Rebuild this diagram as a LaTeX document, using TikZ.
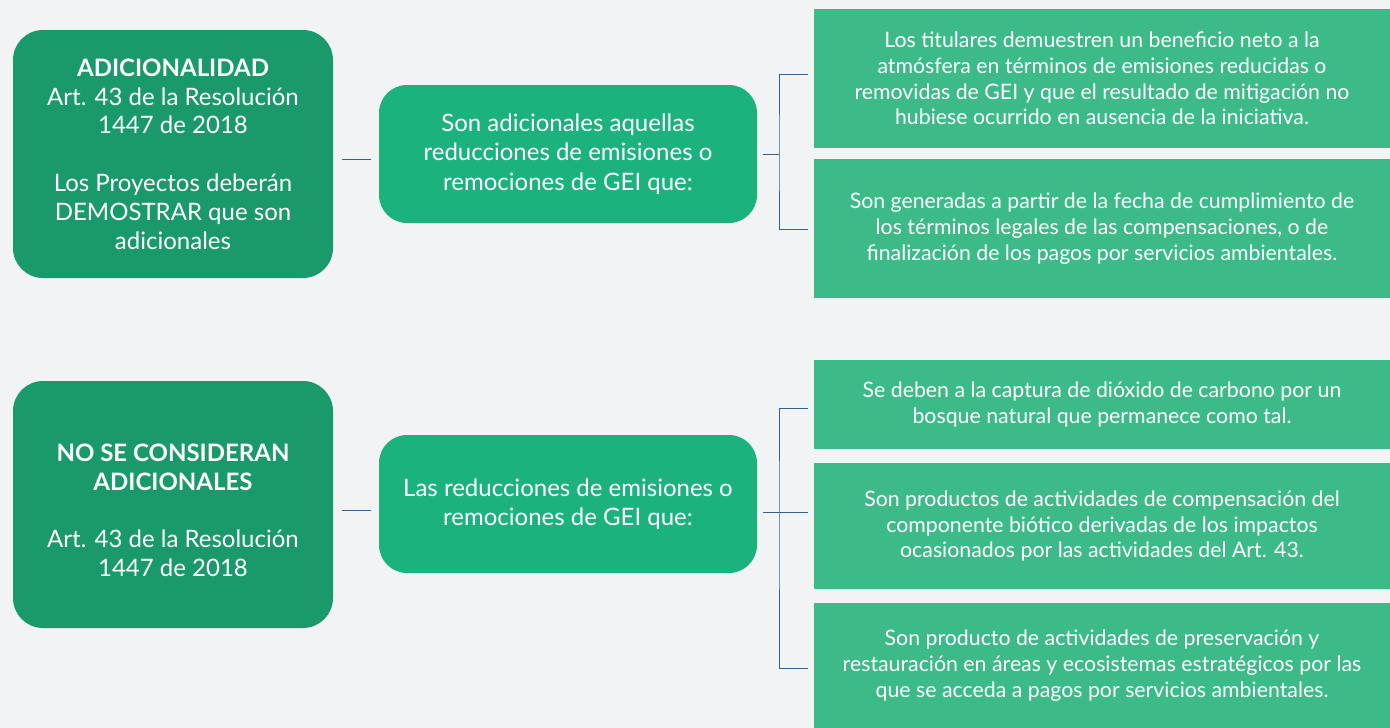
\documentclass[tikz,border=0pt]{standalone}
\usepackage{fontspec}
\setmainfont{Lato}
\definecolor{bg}{RGB}{242,243,245}
\definecolor{gdark}{RGB}{26,154,107}
\definecolor{gmid}{RGB}{27,178,126}
\definecolor{glight}{RGB}{60,187,137}
\definecolor{conncol}{RGB}{52,96,140}
\begin{document}
\begin{tikzpicture}[x=1pt,y=-1pt,
  lefttext/.style={inner sep=0pt,text=white,align=center,font=\fontsize{24}{28.8}\selectfont},
  leftbox/.style={lefttext,fill=gdark,rounded corners=30pt,minimum width=320pt,minimum height=248pt},
  midbox/.style={fill=gmid,rounded corners=28pt,minimum width=378pt,minimum height=138pt,inner sep=0pt,text=white,align=center,font=\fontsize{24}{29.5}\selectfont},
  rightbox/.style={fill=glight,minimum width=576pt,inner sep=0pt,text=white,align=center,font=\fontsize{21.3}{25.6}\selectfont},
  conn/.style={draw=conncol,line width=1pt}]
\useasboundingbox (0,0) rectangle (1390,728);
\fill[bg] (0,0) rectangle (1390,728);
% left boxes
\node[leftbox] (L1) at (173,154) {\textbf{ADICIONALIDAD}\\Art. 43 de la Resolución\\1447 de 2018\\[28.8pt]Los Proyectos deberán\\DEMOSTRAR que son\\adicionales};
\node[leftbox,minimum height=247pt] (L2) at (173,504.5) {};
\node[lefttext] (L2t) at ([yshift=-6pt]L2.center) {\textbf{NO SE CONSIDERAN}\\\textbf{ADICIONALES}\\[28.8pt]Art. 43 de la Resolución\\1447 de 2018};
% middle boxes
\node[midbox] (M1) at (568,154) {Son adicionales aquellas\\reducciones de emisiones o\\remociones de GEI que:};
\node[midbox] (M2) at (568,504) {Las reducciones de emisiones o\\remociones de GEI que:};
% right boxes
\node[rightbox,minimum height=139pt] (R1) at (1102,78.5) {Los titulares demuestren un beneficio neto a la\\atmósfera en términos de emisiones reducidas o\\removidas de GEI y que el resultado de mitigación no\\hubiese ocurrido en ausencia de la iniciativa.};
\node[rightbox,minimum height=139pt] (R2) at (1102,228.5) {Son generadas a partir de la fecha de cumplimiento de\\los términos legales de las compensaciones, o de\\finalización de los pagos por servicios ambientales.};
\node[rightbox,minimum height=89pt] (R3) at (1102,404.5) {Se deben a la captura de dióxido de carbono por un\\bosque natural que permanece como tal.};
\node[rightbox,minimum height=126pt] (R4) at (1102,526) {Son productos de actividades de compensación del\\componente biótico derivadas de los impactos\\ocasionados por las actividades del Art. 43.};
\node[rightbox,minimum height=125pt] (R5) at (1102,665.5) {Son producto de actividades de preservación y\\restauración en áreas y ecosistemas estratégicos por las\\que se acceda a pagos por servicios ambientales.};
% left-to-middle connectors
\draw[conn] ([xshift=9pt,yshift=-5pt]L1.east) -- ([xshift=-8pt,yshift=-5pt]M1.west);
\draw[conn] ([xshift=9pt,yshift=-5.5pt]L2.east) -- ([xshift=-8pt,yshift=-6pt]M2.west);
% brackets top
\coordinate (b1) at (779,154);
\draw[conn] ([xshift=6pt]M1.east) -- (b1);
\draw[conn] ([xshift=-6pt,yshift=4.5pt]R1.west) -| (b1) |- ([xshift=-6pt,yshift=-0.5pt]R2.west);
% brackets bottom
\coordinate (b2) at (779,512);
\draw[conn] ([xshift=6pt,yshift=-8pt]M2.east) -- ([xshift=-6pt]b2 -| R4.west);
\draw[conn] ([xshift=-6pt,yshift=-3.5pt]R3.west) -| (b2) |- ([xshift=-6pt,yshift=-2.5pt]R5.west);
\end{tikzpicture}
\end{document}
